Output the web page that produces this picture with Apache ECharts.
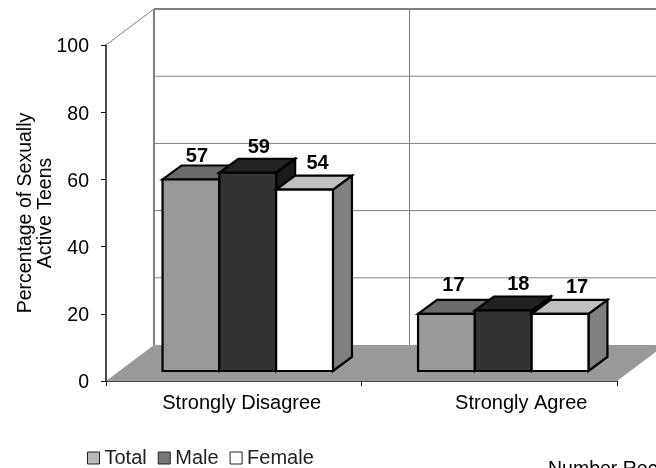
<!DOCTYPE html>
<html><head><meta charset="utf-8">
<style>html,body{margin:0;padding:0;background:#fff}#c{width:656px;height:468px}</style>
<script src="https://cdn.jsdelivr.net/npm/echarts@6/dist/echarts.min.js"></script>
</head><body><div id="c"></div>
<script>
const categories = ['Strongly Disagree', 'Strongly Agree'];
const total = [57, 17];
const male = [59, 18];
const female = [54, 17];
const seriesNames = ['Total', 'Male', 'Female'];
const yTicks = [0, 20, 40, 60, 80, 100];
const footnote = 'Number Rec';

const FONT = '"Liberation Sans", Arial, sans-serif';
const WALL = {dx: 48, dy: -36};
const BASE = {dx: 14, dy: -10};
const DEPTH = {dx: 19, dy: -14};
const BAR_FRACTION = 0.2223;
const GRID = '#808080';
const looks = [
  {front: '#999999', top: '#6b6b6b', side: '#7a7a7a', legend: '#b8b8b8', labelDx: [6, 7], labelDy: [-23, -28]},
  {front: '#333333', top: '#222222', side: '#1a1a1a', legend: '#777777', labelDx: [11, 15], labelDy: [-25, -26]},
  {front: '#ffffff', top: '#c0c0c0', side: '#808080', legend: '#ffffff', labelDx: [13, 17], labelDy: [-26, -26]}
];
const catLabelShift = [8, 32];

function poly(points, fill, stroke, width) {
  return {type: 'polygon', shape: {points: points},
    style: {fill: fill, stroke: stroke || null, lineWidth: width || 0, lineJoin: 'miter'}};
}
function seg(x1, y1, x2, y2, color, width) {
  return {type: 'line', shape: {x1, y1, x2, y2}, style: {stroke: color, lineWidth: width, fill: null}};
}

function renderWalls(params, api) {
  const cs = params.coordSys;
  const x0 = cs.x, x1 = cs.x + cs.width;
  const yOf = v => api.coord([0, v])[1];
  const bx0 = x0 + WALL.dx, bx1 = x1 + WALL.dx;
  const children = [];
  children.push(poly([[x0, yOf(0)], [x1, yOf(0)], [bx1, yOf(0) + WALL.dy], [bx0, yOf(0) + WALL.dy]], '#999999'));
  yTicks.forEach(t => {
    const y = yOf(t);
    children.push({type: 'text', style: {x: x0 - 17, y: y + 2, text: String(t),
      font: '19.5px ' + FONT, fill: '#000', align: 'right', verticalAlign: 'middle'}});
    if (t === 0) return;
    children.push(seg(bx0, y + WALL.dy, bx1, y + WALL.dy, GRID, t === 100 ? 2 : 1));
  });
  children.push(seg(bx0, yOf(100) + WALL.dy, bx0, yOf(0) + WALL.dy, GRID, 2));
  const mid = x0 + cs.width / categories.length + WALL.dx;
  children.push(seg(mid, yOf(100) + WALL.dy, mid, yOf(0) + WALL.dy, GRID, 1));
  children.push(seg(x0, yOf(100), bx0, yOf(100) + WALL.dy, GRID, 1));
  categories.forEach((c, i) => {
    const p = api.coord([i, 0]);
    children.push({type: 'text', style: {x: p[0] + catLabelShift[i], y: p[1] + 22, text: c,
      font: '20px ' + FONT, fill: '#000', align: 'center', verticalAlign: 'middle'}});
  });
  return {type: 'group', children: children};
}

function barRenderer(si) {
  return function (params, api) {
    const cat = api.value(0), val = api.value(1);
    const top = api.coord([cat, val]), bottom = api.coord([cat, 0]);
    const w = api.size([1, 0])[0] * BAR_FRACTION;
    const l = top[0] + (si - 1.5) * w + BASE.dx;
    const r = l + w;
    const t = top[1] + BASE.dy, b = bottom[1] + BASE.dy;
    const d = DEPTH, k = looks[si];
    return {type: 'group', children: [
      poly([[r, t], [r + d.dx, t + d.dy], [r + d.dx, b + d.dy], [r, b]], k.side, '#000', 2.2),
      poly([[l, t], [l + d.dx, t + d.dy], [r + d.dx, t + d.dy], [r, t]], k.top, '#000', 2.2),
      poly([[l, t], [r, t], [r, b], [l, b]], k.front, '#000', 2.2),
      {type: 'text', z2: 50, style: {x: (l + r) / 2 + k.labelDx[cat], y: t + k.labelDy[cat], text: String(val),
        font: 'bold 20px ' + FONT, fill: '#000', align: 'center', verticalAlign: 'middle'}}
    ]};
  };
}

const values = [total, male, female];
const chart = echarts.init(document.getElementById('c'), null, {renderer: 'canvas'});
chart.setOption({
  animation: false,
  backgroundColor: '#fff',
  textStyle: {fontFamily: FONT},
  grid: {left: 106, right: 39, top: 45, bottom: 87, outerBoundsMode: 'none'},
  legend: {
    left: 87, top: 448, padding: 0, itemWidth: 12, itemHeight: 12, itemGap: 11, icon: 'rect',
    selectedMode: false,
    textStyle: {fontFamily: FONT, fontSize: 20, color: '#222'},
    data: seriesNames.map((n, i) => ({name: n, icon: 'rect',
      itemStyle: {color: looks[i].legend, borderColor: '#222', borderWidth: 1}}))
  },
  xAxis: {type: 'category', data: categories,
    axisLine: {lineStyle: {color: '#111', width: 1.5}},
    axisTick: {show: true, length: 5, alignWithLabel: false, lineStyle: {color: '#111'}},
    axisLabel: {show: false}, splitLine: {show: false}},
  yAxis: {type: 'value', min: 0, max: 100, interval: 20,
    name: 'Percentage of Sexually\nActive Teens', nameLocation: 'middle', nameGap: 50,
    nameTextStyle: {fontFamily: FONT, fontSize: 19.5, color: '#000', lineHeight: 20},
    axisLine: {show: true, lineStyle: {color: '#111', width: 1.5}},
    axisTick: {show: true, length: 5, lineStyle: {color: '#111'}},
    axisLabel: {show: false},
    splitLine: {show: false}},
  graphic: [{type: 'text', left: 548, top: 460, silent: true,
    style: {text: footnote, font: '19.5px ' + FONT, fill: '#000'}}],
  series: [
    {type: 'custom', name: 'walls', z: 1, silent: true, data: [[0, 0]], renderItem: renderWalls, encode: {x: 0, y: 1}},
  ].concat(seriesNames.map((n, si) => ({
    type: 'custom', name: n, z: 2 + si, silent: true,
    itemStyle: {color: looks[si].legend},
    data: categories.map((c, i) => [i, values[si][i]]),
    renderItem: barRenderer(si), encode: {x: 0, y: 1}
  })))
});
</script></body></html>
